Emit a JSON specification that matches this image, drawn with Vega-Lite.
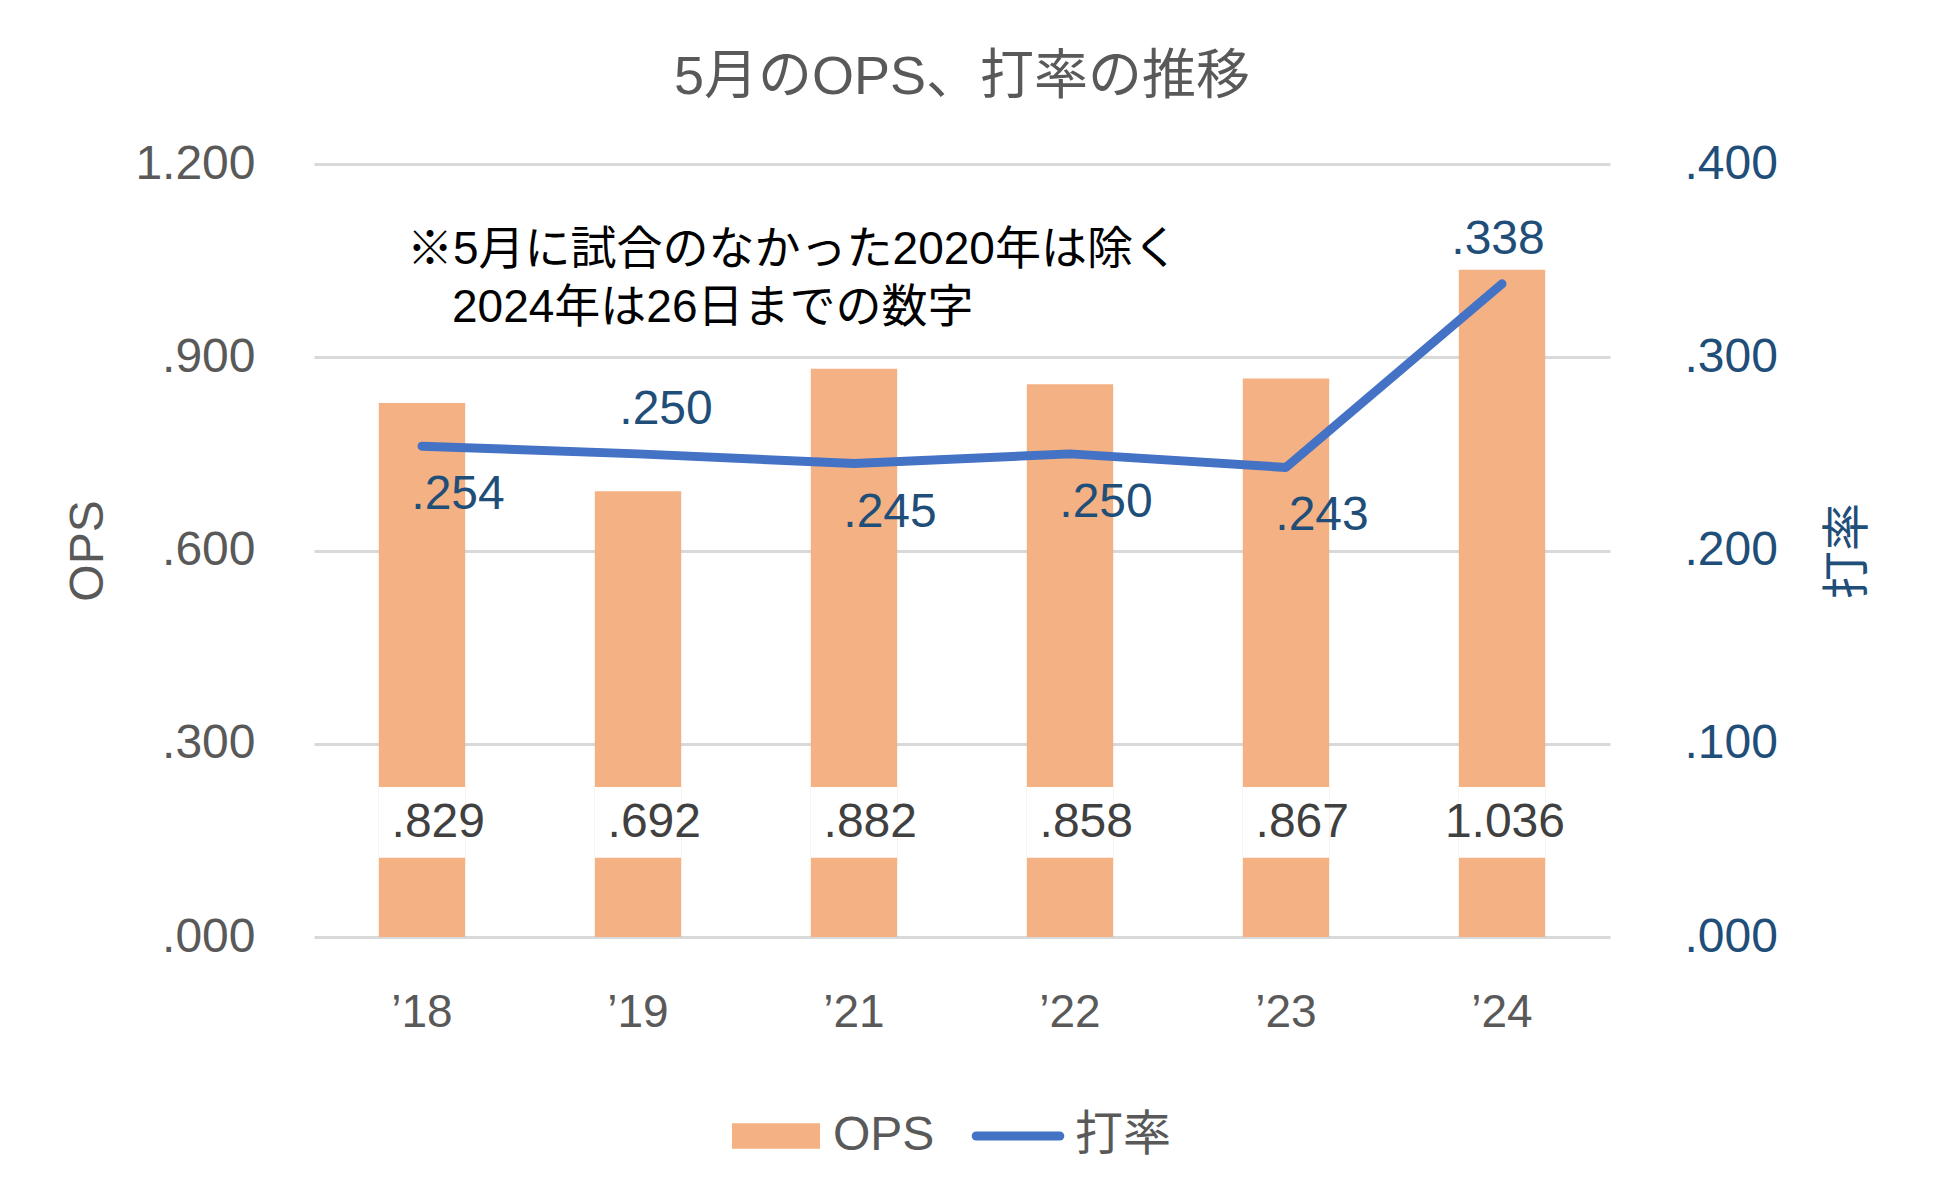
{
  "$schema": "https://vega.github.io/schema/vega-lite/v6.json",
  "width": 1296,
  "height": 773,
  "autosize": {"type": "none"},
  "padding": {"left": 314, "top": 164, "right": 323, "bottom": 257},
  "background": "white",
  "config": {
    "font": "Liberation Sans, Noto Sans CJK JP",
    "view": {"stroke": null},
    "legend": {"layout": {"bottom": {"anchor": "middle"}}}
  },
  "title": {
    "text": "5月のOPS、打率の推移",
    "fontSize": 54,
    "fontWeight": "normal",
    "color": "#595959",
    "font": "Liberation Sans, Noto Sans CJK JP",
    "anchor": "middle",
    "offset": 35
  },
  "data": {
    "values": [
      {"year": "’18", "OPS": 0.829, "AVG": 0.254},
      {"year": "’19", "OPS": 0.692, "AVG": 0.250},
      {"year": "’21", "OPS": 0.882, "AVG": 0.245},
      {"year": "’22", "OPS": 0.858, "AVG": 0.250},
      {"year": "’23", "OPS": 0.867, "AVG": 0.243},
      {"year": "’24", "OPS": 1.036, "AVG": 0.338}
    ]
  },
  "encoding": {
    "x": {
      "field": "year",
      "type": "nominal",
      "sort": null,
      "scale": {"paddingInner": 0.6, "paddingOuter": 0.3},
      "axis": {
        "title": null,
        "labelAngle": 0,
        "labelFontSize": 46,
        "labelColor": "#595959",
        "ticks": false,
        "domain": false,
        "labelPadding": 53
      }
    }
  },
  "layer": [
    {
      "encoding": {
        "y": {
          "field": "OPS",
          "type": "quantitative",
          "scale": {"domain": [0, 1.2], "nice": false},
          "axis": {
            "orient": "left",
            "values": [0, 0.3, 0.6, 0.9, 1.2],
            "labelExpr": "replace(format(datum.value, '.3f'), '0.', '.')",
            "labelFontSize": 48,
            "labelColor": "#595959",
            "labelPadding": 59,
            "ticks": false,
            "domain": false,
            "grid": true,
            "gridColor": "#D9D9D9",
            "gridWidth": 3,
            "title": "OPS",
            "titleFontSize": 48,
            "titleFontWeight": "normal",
            "titleColor": "#595959",
            "titlePadding": 22
          }
        }
      },
      "layer": [
        {
          "mark": {"type": "bar"},
          "encoding": {
            "color": {
              "datum": "OPS",
              "scale": {"domain": ["OPS", "打率"], "range": ["#F4B183", "#4472C4"]},
              "legend": {
                "orient": "bottom",
                "title": null,
                "direction": "horizontal",
                "labelFontSize": 48,
                "labelColor": "#595959",
                "labelOffset": 33,
                "columnPadding": 23,
                "symbolSize": 7744,
                "offset": 77,
                "encode": {
                  "symbols": {
                    "update": {
                      "shape": {"signal": "datum.value === 'OPS' ? 'M-1,-0.29H1V0.29H-1Z' : 'M-0.95,0H0.95'"},
                      "fill": {"signal": "datum.value === 'OPS' ? '#F4B183' : 'transparent'"},
                      "stroke": {"signal": "datum.value === 'OPS' ? 'transparent' : '#4472C4'"},
                      "strokeWidth": {"signal": "datum.value === 'OPS' ? 0 : 9"},
                      "strokeCap": {"value": "round"},
                      "opacity": {"value": 1}
                    }
                  }
                }
              }
            }
          }
        },
        {
          "mark": {"type": "bar", "color": "white"},
          "encoding": {
            "y": {"datum": 0.123, "type": "quantitative"},
            "y2": {"datum": 0.233}
          }
        },
        {
          "mark": {
            "type": "text",
            "align": "right",
            "baseline": "middle",
            "dx": 63,
            "fontSize": 48,
            "color": "#404040",
            "text": {"expr": "replace(format(datum.OPS, '.3f'), '0.', '.')"}
          },
          "encoding": {
            "y": {"datum": 0.177, "type": "quantitative"}
          }
        },
        {
          "transform": [{"filter": "datum.year === '’18'"}],
          "mark": {
            "type": "text",
            "align": "left",
            "baseline": "middle",
            "dx": -15,
            "fontSize": 46,
            "color": "#000000",
            "text": "※5月に試合のなかった2020年は除く"
          },
          "encoding": {
            "y": {"datum": 1.0665, "type": "quantitative"}
          }
        },
        {
          "transform": [{"filter": "datum.year === '’18'"}],
          "mark": {
            "type": "text",
            "align": "left",
            "baseline": "middle",
            "dx": 30,
            "fontSize": 46,
            "color": "#000000",
            "text": "2024年は26日までの数字"
          },
          "encoding": {
            "y": {"datum": 0.9765, "type": "quantitative"}
          }
        }
      ]
    },
    {
      "encoding": {
        "y": {
          "field": "AVG",
          "type": "quantitative",
          "scale": {"domain": [0, 0.4], "nice": false},
          "axis": {
            "orient": "right",
            "values": [0, 0.1, 0.2, 0.3, 0.4],
            "labelExpr": "replace(format(datum.value, '.3f'), '0.', '.')",
            "labelFontSize": 48,
            "labelColor": "#1F4E79",
            "labelPadding": 74,
            "ticks": false,
            "domain": false,
            "grid": false,
            "title": "打率",
            "titleAngle": 270,
            "titleFontSize": 48,
            "titleFontWeight": "normal",
            "titleColor": "#1F4E79",
            "titlePadding": 95
          }
        }
      },
      "layer": [
        {
          "mark": {"type": "line", "strokeWidth": 9, "strokeCap": "round", "strokeJoin": "round"},
          "encoding": {
            "color": {"datum": "打率"}
          }
        },
        {
          "transform": [{"filter": "datum.year !== '’19' && datum.year !== '’24'"}],
          "mark": {
            "type": "text",
            "align": "center",
            "baseline": "middle",
            "dx": 36,
            "dy": 49,
            "fontSize": 48,
            "color": "#1F4E79",
            "text": {"expr": "replace(format(datum.AVG, '.3f'), '0.', '.')"}
          }
        },
        {
          "transform": [{"filter": "datum.year === '’19'"}],
          "mark": {
            "type": "text",
            "align": "center",
            "baseline": "middle",
            "dx": 28,
            "dy": -44,
            "fontSize": 48,
            "color": "#1F4E79",
            "text": {"expr": "replace(format(datum.AVG, '.3f'), '0.', '.')"}
          }
        },
        {
          "transform": [{"filter": "datum.year === '’24'"}],
          "mark": {
            "type": "text",
            "align": "center",
            "baseline": "middle",
            "dx": -4,
            "dy": -44,
            "fontSize": 48,
            "color": "#1F4E79",
            "text": {"expr": "replace(format(datum.AVG, '.3f'), '0.', '.')"}
          }
        }
      ]
    }
  ],
  "resolve": {"scale": {"y": "independent"}}
}
